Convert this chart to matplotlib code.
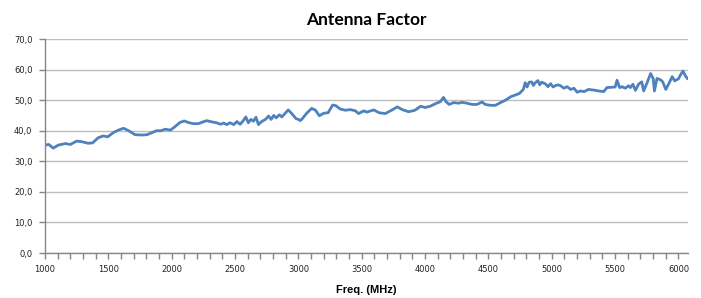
import matplotlib
matplotlib.use("Agg")
import matplotlib.pyplot as plt
from matplotlib.ticker import MultipleLocator

freq = [1000, 1030, 1065, 1105, 1160, 1200, 1250, 1290, 1340, 1375,
        1420, 1460, 1495, 1540, 1580, 1620, 1660, 1710, 1765, 1805,
        1845, 1880, 1915, 1950, 1990, 2025, 2065, 2100, 2130, 2170,
        2210, 2250, 2275, 2315, 2355, 2385, 2410, 2435, 2460, 2490,
        2515, 2540, 2565, 2585, 2605, 2625, 2645, 2665, 2685, 2710,
        2740, 2765, 2785, 2805, 2825, 2850, 2870, 2895, 2920, 2950,
        2980, 3000, 3015, 3030, 3065, 3105, 3135, 3165, 3200, 3235,
        3270, 3295, 3330, 3370, 3410, 3450, 3475, 3515, 3540, 3595,
        3635, 3685, 3740, 3780, 3820, 3870, 3920, 3965, 4000, 4040,
        4080, 4120, 4145, 4165, 4190, 4225, 4265, 4290, 4330, 4370,
        4410, 4450, 4475, 4515, 4555, 4595, 4635, 4675, 4715, 4745,
        4775, 4790, 4805, 4820, 4840, 4855, 4865, 4890, 4905, 4920,
        4950, 4970, 4990, 5010, 5030,
        5050, 5070, 5095, 5120, 5150, 5175, 5200, 5225, 5255, 5290,
        5330, 5370, 5410, 5435, 5470, 5500, 5515, 5535, 5555, 5580,
        5605, 5620, 5640, 5660, 5685, 5710, 5725, 5755, 5780, 5800,
        5810, 5830, 5860, 5875, 5900, 5925, 5950, 5970, 6000, 6015,
        6035, 6055, 6070]

antenna_factor = [35.3, 35.5, 34.3, 35.3, 35.8, 35.5, 36.6, 36.4, 35.9, 36.0,
                  37.7, 38.3, 38.0, 39.4, 40.2, 40.8, 40.0, 38.7, 38.6, 38.7,
                  39.4, 40.0, 40.0, 40.5, 40.2, 41.3, 42.7, 43.2, 42.7, 42.3,
                  42.3, 42.9, 43.3, 42.9, 42.6, 42.1, 42.5, 42.0, 42.6, 42.0,
                  43.0, 42.1, 43.3, 44.5, 42.6, 43.7, 43.1, 44.4, 42.0, 43.0,
                  43.7, 44.8, 43.7, 45.0, 44.2, 45.2, 44.5, 45.7, 46.8, 45.5,
                  44.0, 43.7, 43.3, 43.9, 45.7, 47.3, 46.7, 44.9, 45.7, 45.9,
                  48.4, 48.2, 47.1, 46.7, 46.9, 46.5, 45.6, 46.5, 46.1, 46.8,
                  45.9, 45.6, 46.8, 47.8, 46.9, 46.2, 46.7, 48.0, 47.6, 48.0,
                  48.8, 49.5, 50.9, 49.5, 48.6, 49.2, 49.0, 49.3, 49.0, 48.6,
                  48.6, 49.4, 48.6, 48.3, 48.3, 49.2, 50.0, 51.1, 51.7, 52.2,
                  53.5, 55.7, 54.3, 55.8, 56.0, 54.8, 55.5, 56.4, 55.0, 55.9,
                  55.3, 54.4, 55.4, 54.3, 54.8,
                  55.0, 54.7, 53.9, 54.4, 53.5, 53.9, 52.6, 53.0, 52.8, 53.5,
                  53.3, 53.0, 52.8, 54.1, 54.2, 54.3, 56.5, 54.1, 54.4, 53.9,
                  54.7, 54.1, 55.2, 53.2, 55.2, 56.0, 53.0, 56.0, 58.7, 57.1,
                  53.0, 57.1, 56.6, 56.0, 53.5, 55.5, 57.7, 56.3, 57.0, 58.2,
                  59.5, 57.9, 57.1]

x_ticks = [1000, 1500, 2000, 2500, 3000, 3500, 4000, 4500, 5000, 5500, 6000]
x_tick_labels = ["1000", "1500", "2000", "2500", "3000", "3500", "4000",
                 "4500", "5000", "5500", "6000"]
y_ticks = [0, 10, 20, 30, 40, 50, 60, 70]
y_tick_labels = ["0,0", "10,0", "20,0", "30,0", "40,0", "50,0", "60,0", "70,0"]

title = "Antenna Factor"
x_label = "Freq. (MHz)"

fig = plt.figure(figsize=(7.01, 2.98), dpi=100)
ax = fig.add_axes([45 / 701, 45 / 298, 643 / 701, 214 / 298])

ax.plot(freq, antenna_factor, color="#4F81BD", linewidth=2.0, solid_joinstyle="round")

ax.set_xlim(1000, 6075)
ax.set_ylim(0, 70)

ax.set_xticks(x_ticks)
ax.set_xticklabels(x_tick_labels)
ax.xaxis.set_minor_locator(MultipleLocator(100))
ax.set_yticks(y_ticks)
ax.set_yticklabels(y_tick_labels)

ax.grid(axis="y", color="#BEBEBE", linewidth=1.0)
ax.set_axisbelow(True)

for side in ["top", "right"]:
    ax.spines[side].set_visible(False)
for side in ["left", "bottom"]:
    ax.spines[side].set_color("#868686")
    ax.spines[side].set_linewidth(1.0)

ax.tick_params(axis="x", which="both", direction="out", length=4, width=1,
               color="#868686", labelsize=6, labelcolor="#222222", pad=5)
ax.tick_params(axis="y", which="both", direction="out", length=4, width=1,
               color="#868686", labelsize=6, labelcolor="#222222", pad=5)

fig.text((45 + 688) / 2 / 701, 1 - 20 / 298, title, ha="center", va="center",
         fontsize=12.5, fontweight="bold", family="Lato")
fig.text((45 + 688) / 2 / 701, 1 - 290 / 298, x_label, ha="center", va="center",
         fontsize=8, fontweight="bold", family="Liberation Sans")

fig.savefig("out.png", dpi=100)
